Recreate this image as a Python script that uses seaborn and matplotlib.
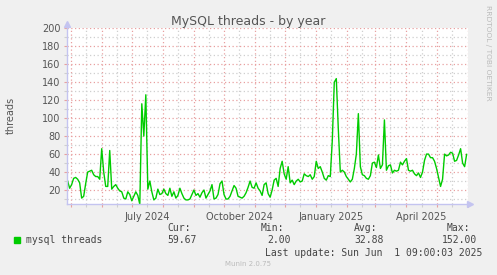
import numpy as np
import pandas as pd
import matplotlib
matplotlib.use("Agg")
import matplotlib.pyplot as plt
import matplotlib.dates as mdates
from matplotlib.ticker import MultipleLocator, NullFormatter, FuncFormatter
import seaborn as sns

# ---- data -------------------------------------------------------------
dates = pd.date_range("2024-04-28", "2025-05-31", freq="2D")
threads = [
    30, 22, 26, 33, 34, 32, 28, 11, 13, 27,
    40, 41, 42, 37, 35, 35, 32, 66, 40, 24,
    24, 64, 21, 24, 26, 22, 19, 18, 11, 10,
    18, 15, 8, 13, 18, 14, 4, 116, 80, 126,
    21, 30, 18, 9, 11, 21, 15, 16, 21, 16,
    14, 22, 13, 18, 11, 14, 22, 16, 11, 9,
    9, 10, 15, 20, 14, 16, 12, 17, 20, 11,
    15, 19, 26, 10, 11, 15, 27, 30, 15, 10,
    10, 13, 19, 25, 22, 13, 12, 11, 13, 17,
    23, 30, 23, 22, 28, 22, 19, 14, 26, 28,
    16, 12, 20, 31, 33, 24, 44, 52, 38, 32,
    46, 28, 31, 26, 30, 32, 29, 30, 38, 36,
    35, 37, 32, 35, 52, 44, 46, 40, 33, 31,
    36, 35, 75, 140, 144, 88, 40, 42, 40, 35,
    32, 29, 32, 44, 60, 105, 46, 37, 36, 33,
    32, 36, 50, 51, 45, 59, 44, 48, 98, 42,
    47, 48, 39, 42, 41, 42, 51, 48, 52, 55,
    42, 41, 42, 38, 36, 39, 34, 40, 53, 60,
    60, 56, 56, 52, 44, 34, 24, 32, 60, 58,
    59, 62, 61, 52, 53, 59, 66, 50, 46, 59.67,
]
series_name = "mysql threads"
stat_labels = ["Cur:", "Min:", "Avg:", "Max:"]
stat_values = ["59.67", "2.00", "32.88", "152.00"]
labelled_months = [1, 4, 7, 10]
title = "MySQL threads - by year"
ylabel = "threads"
last_update = "Last update: Sun Jun  1 09:00:03 2025"
footer = "Munin 2.0.75"
watermark = "RRDTOOL / TOBI OETIKER"

df = pd.DataFrame({"date": dates, "threads": threads})

# ---- figure -----------------------------------------------------------
W, H = 497, 275
BG = "#F0F0F0"
TXT = "#555555"
RED = "#E8A0A0"
GRAY = "#CFCFCF"
AXC = "#C4C4F0"

fig = plt.figure(figsize=(W / 100, H / 100), dpi=100, facecolor=BG)
ax = fig.add_axes([67 / W, 1 - 203.5 / H, 401 / W, 175.2 / H])
ax.set_facecolor("white")

sns.lineplot(data=df, x="date", y="threads", ax=ax, color="#00CC00",
             linewidth=1.0, legend=False)

t_end = pd.Timestamp("2025-06-01 09:00")
ax.set_xlim(t_end - pd.Timedelta(days=400), t_end)
ax.set_ylim(5, 200)

# grid / ticks
ax.yaxis.set_major_locator(MultipleLocator(20))
ax.yaxis.set_minor_locator(MultipleLocator(10))
ax.xaxis.set_major_locator(mdates.MonthLocator())
ax.xaxis.set_minor_locator(mdates.MonthLocator(bymonthday=16))
ax.xaxis.set_major_formatter(NullFormatter())


def fmt_minor(v, pos):
    d = mdates.num2date(v)
    return d.strftime("%B %Y") if d.month in labelled_months else ""


ax.xaxis.set_minor_formatter(FuncFormatter(fmt_minor))

dot = (0, (1, 2))
ax.grid(which="major", color=RED, linestyle=dot, linewidth=0.9)
ax.grid(which="minor", color=GRAY, linestyle=dot, linewidth=0.9)
ax.set_axisbelow(True)

ax.tick_params(which="major", length=2.5, width=0.8, color=RED,
               labelsize=7, labelcolor=TXT, pad=2)
ax.tick_params(which="minor", length=2, width=0.8, color=GRAY,
               labelsize=7, labelcolor=TXT, pad=3)
ax.tick_params(axis="x", which="minor", pad=4)

for s in ["top", "right"]:
    ax.spines[s].set_visible(False)
for s in ["left", "bottom"]:
    ax.spines[s].set_color(AXC)
    ax.spines[s].set_linewidth(1.0)

ax.set_xlabel("")
ax.set_ylabel("")

# axis arrows
ax.plot([0], [1.027], marker="^", ms=4, color=AXC, transform=ax.transAxes,
        clip_on=False)
ax.plot([1.006], [0], marker=">", ms=4, color=AXC, transform=ax.transAxes,
        clip_on=False)

# ---- texts ------------------------------------------------------------
def fy(px):
    return 1 - px / H


fig.text(248.5 / W, fy(24.5), title, ha="center", va="baseline",
         fontsize=9, color=TXT)
fig.text(11 / W, fy(115.7), ylabel, ha="center", va="center",
         rotation=90, fontsize=7, color=TXT)
fig.text(488 / W, fy(5), watermark, ha="center", va="top",
         rotation=270, fontsize=5.4, color="#BBBBBB")

mono = "DejaVu Sans Mono"
fig.patches.append(plt.Rectangle((14 / W, fy(242.7)), 6 / W, 6 / H,
                                 transform=fig.transFigure,
                                 color="#00CC00", zorder=5))
fig.text(26 / W, fy(243.3), series_name, family=mono, fontsize=7,
         color="#444444", va="baseline")

stat_x = [167.3, 260.7, 354.0, 446.7]
val_x_right = [197.0, 290.4, 383.6, 477.3]
for lab, xl, val, xr in zip(stat_labels, stat_x, stat_values, val_x_right):
    fig.text(xl / W, fy(231), lab, family=mono, fontsize=7,
             color="#444444", va="baseline")
    fig.text(xr / W, fy(243.3), val, family=mono, fontsize=7,
             color="#444444", va="baseline", ha="right")

fig.text(482.7 / W, fy(255.5), last_update, family=mono, fontsize=7,
         color="#444444", va="baseline", ha="right")
fig.text(247.8 / W, fy(266), footer, fontsize=5, color="#BBBBBB",
         va="baseline", ha="center")

fig.savefig("out.png", dpi=100, facecolor=BG)
